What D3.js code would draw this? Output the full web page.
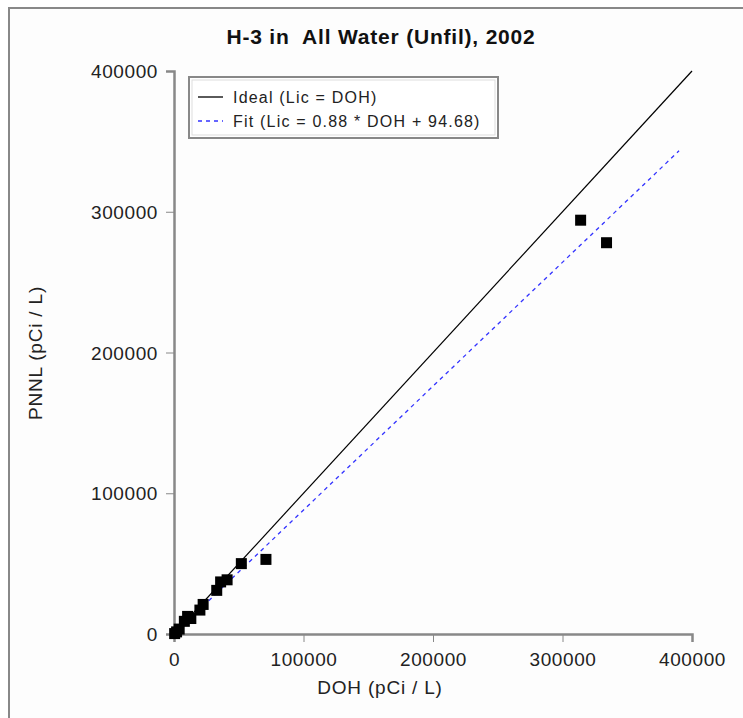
<!DOCTYPE html>
<html>
<head>
<meta charset="utf-8">
<script src="https://cdn.jsdelivr.net/npm/d3@7"></script>
<style>
  body { margin: 0; background: #fff; }
  svg text { font-family: Arial, "Liberation Sans", sans-serif; }
</style>
</head>
<body>
<div id="chart"></div>
<script>
var dohValues  = [500, 2000, 4000, 8000, 10500, 13000, 20000, 22500, 33000, 36000, 41000, 52000, 71000, 314000, 334000];
var pnnlValues = [300, 1500, 3500, 9000, 12500, 11000, 17000, 21000, 31000, 37000, 38500, 50000, 53000, 294000, 278000];
var tickValues = [0, 100000, 200000, 300000, 400000];
var fitSlope = 0.88, fitIntercept = 94.68, fitMaxX = 390000;
var legendLabels = ["Ideal (Lic = DOH)", "Fit (Lic = 0.88 * DOH + 94.68)"];

var width = 743, height = 718;

var svg = d3.select("#chart").append("svg")
    .attr("width", width)
    .attr("height", height);

// outer frame (only top/left visible in the picture)
svg.append("rect")
    .attr("x", 9).attr("y", 8)
    .attr("width", width + 20).attr("height", height + 20)
    .attr("fill", "#fdfdfd")
    .attr("stroke", "#888")
    .attr("stroke-width", 2);

var x = d3.scaleLinear().domain([0, 400000]).range([174, 692]);
var y = d3.scaleLinear().domain([0, 400000]).range([634, 71]);

// title
svg.append("text")
    .attr("x", 381).attr("y", 44)
    .attr("text-anchor", "middle")
    .style("font-size", "21px")
    .style("font-weight", "bold")
    .style("letter-spacing", "0.8px")
    .style("white-space", "pre")
    .attr("fill", "#111")
    .text("H-3 in  All Water (Unfil), 2002");

// axes
var xAxis = svg.append("g")
    .attr("transform", "translate(0," + y(0) + ")")
    .call(d3.axisBottom(x).tickValues(tickValues).tickFormat(d3.format("d")).tickSizeOuter(0).tickSize(8).tickPadding(11));
var yAxis = svg.append("g")
    .attr("transform", "translate(" + x(0) + ",0)")
    .call(d3.axisLeft(y).tickValues(tickValues).tickFormat(d3.format("d")).tickSizeOuter(0).tickSize(8).tickPadding(8));

[xAxis, yAxis].forEach(function(a) {
    a.select(".domain").attr("stroke", "#888").attr("stroke-width", 2.5);
    a.selectAll(".tick line").attr("stroke", "#888").attr("stroke-width", 1);
    a.selectAll(".tick text")
        .attr("fill", "#222")
        .style("font-size", "19px")
        .style("letter-spacing", "0.6px")
        .style("font-family", "Arial, 'Liberation Sans', sans-serif");
});
yAxis.selectAll(".tick text").attr("dy", "0.35em");

// axis titles
svg.append("text")
    .attr("x", 380).attr("y", 694)
    .attr("text-anchor", "middle")
    .style("font-size", "19px")
    .style("letter-spacing", "0.8px")
    .attr("fill", "#222")
    .text("DOH (pCi / L)");
svg.append("text")
    .attr("transform", "translate(42,353) rotate(-90)")
    .attr("text-anchor", "middle")
    .style("font-size", "19px")
    .style("letter-spacing", "0.8px")
    .attr("fill", "#222")
    .text("PNNL (pCi / L)");

// ideal line
svg.append("line")
    .attr("x1", x(0)).attr("y1", y(0))
    .attr("x2", x(400000)).attr("y2", y(400000))
    .attr("stroke", "#000")
    .attr("stroke-width", 1.2);

// fit line
svg.append("line")
    .attr("x1", x(0)).attr("y1", y(fitIntercept))
    .attr("x2", x(fitMaxX)).attr("y2", y(fitSlope * fitMaxX + fitIntercept))
    .attr("stroke", "#3333ff")
    .attr("stroke-width", 1.3)
    .attr("stroke-dasharray", "4,4");

// points
var pts = dohValues.map(function(d, i) { return { x: d, y: pnnlValues[i] }; });
var sz = 11;
svg.selectAll(".pt")
    .data(pts)
    .enter().append("rect")
    .attr("class", "pt")
    .attr("x", function(d) { return x(d.x) - sz / 2; })
    .attr("y", function(d) { return y(d.y) - sz / 2; })
    .attr("width", sz).attr("height", sz)
    .attr("fill", "#000");

// legend
var lg = svg.append("g").attr("transform", "translate(189,77)");
lg.append("rect")
    .attr("width", 309).attr("height", 61)
    .attr("fill", "#fff")
    .attr("stroke", "#888")
    .attr("stroke-width", 2);
lg.append("rect")
    .attr("x", 3).attr("y", 3)
    .attr("width", 303).attr("height", 55)
    .attr("fill", "none")
    .attr("stroke", "#ddd")
    .attr("stroke-width", 1);
lg.append("line")
    .attr("x1", 9).attr("x2", 34).attr("y1", 20).attr("y2", 20)
    .attr("stroke", "#000").attr("stroke-width", 1.3);
lg.append("line")
    .attr("x1", 9).attr("x2", 34).attr("y1", 44).attr("y2", 44)
    .attr("stroke", "#3333ff").attr("stroke-width", 1.3)
    .attr("stroke-dasharray", "4,4");
lg.selectAll(".lbl")
    .data(legendLabels)
    .enter().append("text")
    .attr("x", 44)
    .attr("y", function(d, i) { return 20 + i * 24; })
    .attr("dy", "0.35em")
    .style("font-size", "16px")
    .style("letter-spacing", "1.2px")
    .attr("fill", "#222")
    .text(function(d) { return d; });
</script>
</body>
</html>
